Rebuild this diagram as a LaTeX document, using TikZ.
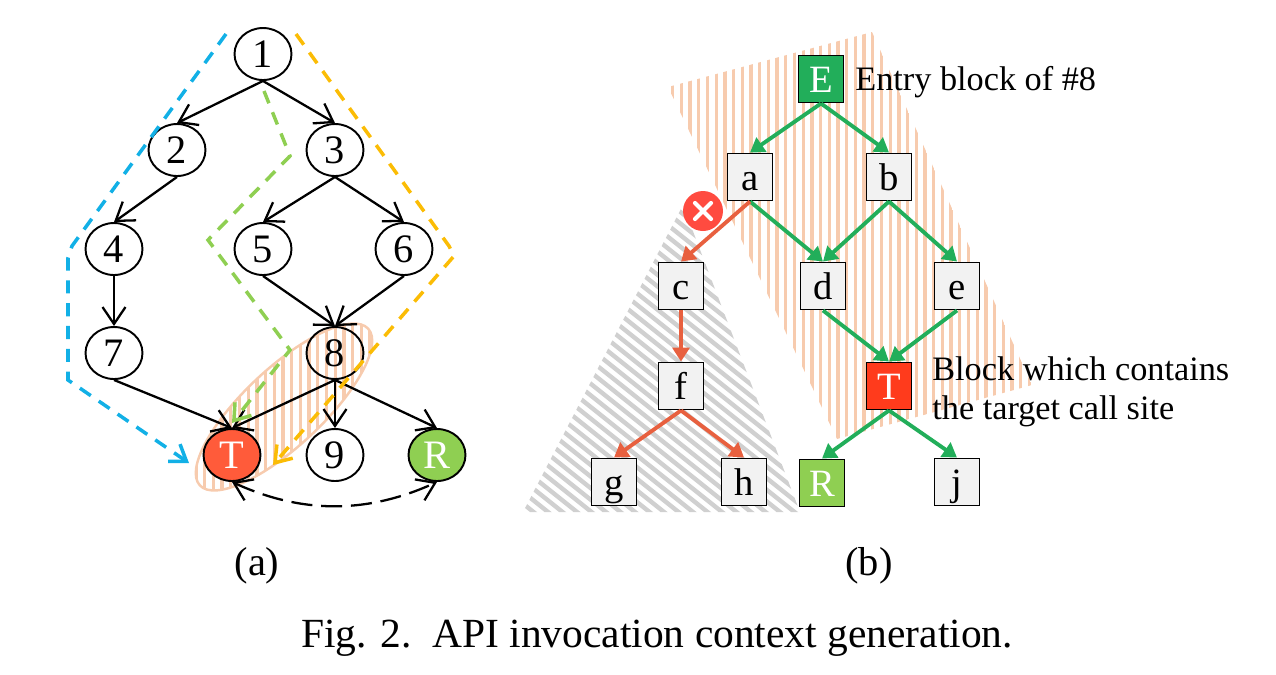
\documentclass[tikz,border=0pt]{standalone}
\usepackage{xcolor}
\usepackage{fontspec}
\setmainfont{Liberation Serif}
\usetikzlibrary{arrows.meta,shapes.geometric}
\definecolor{hatchorange}{HTML}{F7CBAE}
\definecolor{hatchgray}{HTML}{D0D0D0}
\definecolor{pathblue}{HTML}{12B0E6}
\definecolor{pathorange}{HTML}{FBBC05}
\definecolor{pathgreen}{HTML}{8FCF52}
\definecolor{flowgreen}{HTML}{22AE5A}
\definecolor{flowred}{HTML}{E8603F}
\definecolor{boxgray}{HTML}{F2F2F2}
\definecolor{targetcirc}{HTML}{FF5B3A}
\definecolor{targetbox}{HTML}{FF3B1C}
\definecolor{stopred}{HTML}{FF4B40}
\tikzset{
  circnode/.style={draw,ellipse,line width=1.1pt,minimum width=1.14cm,minimum height=1.04cm,inner sep=0pt,text height=15.5pt,text depth=0pt,font=\fontsize{23}{23}\selectfont},
  boxnode/.style={draw,rectangle,line width=1.1pt,fill=boxgray,minimum width=.9cm,minimum height=.94cm,inner sep=0pt,text height=14.8pt,text depth=0pt,font=\fontsize{22}{22}\selectfont},
  blackedge/.style={line width=1.3pt,-{Straight Barb[length=.34cm,width=.46cm,line width=1.3pt]}},
  pathedge/.style={line width=2pt,dash pattern=on 7.5pt off 5.5pt,-{Straight Barb[length=.3cm,width=.42cm,line width=2pt]}},
  flowedge/.style={line width=2.2pt,-{Triangle[length=.28cm,width=.34cm]}},
  note/.style={anchor=west,inner sep=0pt,font=\fontsize{19.5}{19.5}\selectfont},
  sublabel/.style={inner sep=0pt,font=\fontsize{23}{23}\selectfont}
}
\begin{document}
\begin{tikzpicture}[x=0.02cm,y=-0.02cm]
\useasboundingbox (0,0) rectangle (1276,674);
\begin{scope}\clip[rotate around={43:(284,407)}] (284,407) ellipse [x radius=2.3cm,y radius=.78cm];
\foreach \x in {196,204.7,...,376} \draw[hatchorange,line width=1.9pt] (\x,310) -- (\x,500);
\end{scope}
\draw[hatchorange,line width=1.4pt,rotate around={43:(284,407)}] (284,407) ellipse [x radius=2.3cm,y radius=.78cm];
\begin{scope}\clip (872,32) -- (668,87) -- (837,439) -- (1032,385) -- cycle;
\foreach \x in {664,672.7,...,1036} \draw[hatchorange,line width=1.9pt] (\x,25) -- (\x,445);
\end{scope}
\begin{scope}\clip (683,205) -- (523,512) -- (800,512) -- cycle;
\foreach \x in {0,14.5,...,600} \draw[hatchgray,line width=2.5pt] ({\x+100},200) -- ({\x+500},520);
\end{scope}
\foreach \name/\x/\y in {1/263/54,2/177/150,3/335/150,4/114/249,5/263/249,6/404/249,7/114/353,8/335/353,9/335/455}
  \node[circnode] (n\name) at (\x,\y) {\name};
\node[circnode,fill=targetcirc,text=white] (nT) at (232,455) {T};
\node[circnode,fill=pathgreen,text=white] (nR) at (437,455) {R};
\foreach \a/\b in {1/2,1/3,2/4,3/5,3/6,4/7,5/8,6/8,7/T,8/T,8/9,8/R}
  \draw[blackedge] (n\a.south) -- (n\b.north);
\draw[line width=1.3pt,dash pattern=on 12pt off 5pt,{Straight Barb[length=.34cm,width=.46cm,line width=1.3pt]}-{Straight Barb[length=.34cm,width=.46cm,line width=1.3pt]}] (nT.south) .. controls +(70,32) and +(-70,32) .. (nR.south);
\coordinate (bluestart) at (226,34);
\coordinate (blueend) at (189,463);
\coordinate (orangestart) at (296,34);
\coordinate (orangeend) at (273,465);
\coordinate (greenstart) at (264,91);
\coordinate (greenend) at (232,423);
\draw[pathedge,pathblue] (bluestart) -- (72,246) -- (68,258) -- (68,380) -- (blueend);
\draw[pathedge,pathorange] (orangestart) -- (449,246) -- (454,256) -- (orangeend);
\draw[pathedge,pathgreen] (greenstart) -- (290,156) -- (208,240) -- (290,350) -- (greenend);
\foreach \name/\x/\y in {a/750/177,b/889/177,c/681/286,d/823/286,e/957/286,f/681/386,g/614/482,h/744/482,j/957/482}
  \node[boxnode] (blk\name) at (\x,\y) {\name};
\node[boxnode,fill=flowgreen,text=white] (blkE) at (821,79) {E};
\node[boxnode,fill=targetbox,text=white] (blkT) at (889,386) {T};
\node[boxnode,fill=pathgreen,text=white] (blkR) at (822,483) {R};
\foreach \a/\b in {E/a,E/b,a/d,b/d,b/e,d/T,e/T,T/R,T/j}
  \draw[flowedge,flowgreen] (blk\a.south) -- (blk\b.north);
\foreach \a/\b in {a/c,c/f,f/g,f/h}
  \draw[flowedge,flowred] (blk\a.south) -- (blk\b.north);
\node[circle,fill=stopred,minimum size=.8cm,inner sep=0pt] (stopmark) at (703,211) {};
\draw[white,line width=2.4pt,line cap=round] ([shift={(-8,-8)}]stopmark.center) -- ([shift={(8,8)}]stopmark.center);
\draw[white,line width=2.4pt,line cap=round] ([shift={(-8,8)}]stopmark.center) -- ([shift={(8,-8)}]stopmark.center);
\node[note] (entrynote) at (855,82) {Entry block of \#8};
\node[note] (blocknote) at (932,369) {Block which contains};
\node[note] (sitenote) at (932,411) {the target call site};
\node[sublabel] (suba) at (257,566) {(a)};
\node[sublabel] (subb) at (869,566) {(b)};
\node[sublabel,font=\fontsize{23.6}{23.6}\selectfont] (caption) at (657,638) {Fig. 2.\ \ API invocation context generation.};
\end{tikzpicture}
\end{document}
